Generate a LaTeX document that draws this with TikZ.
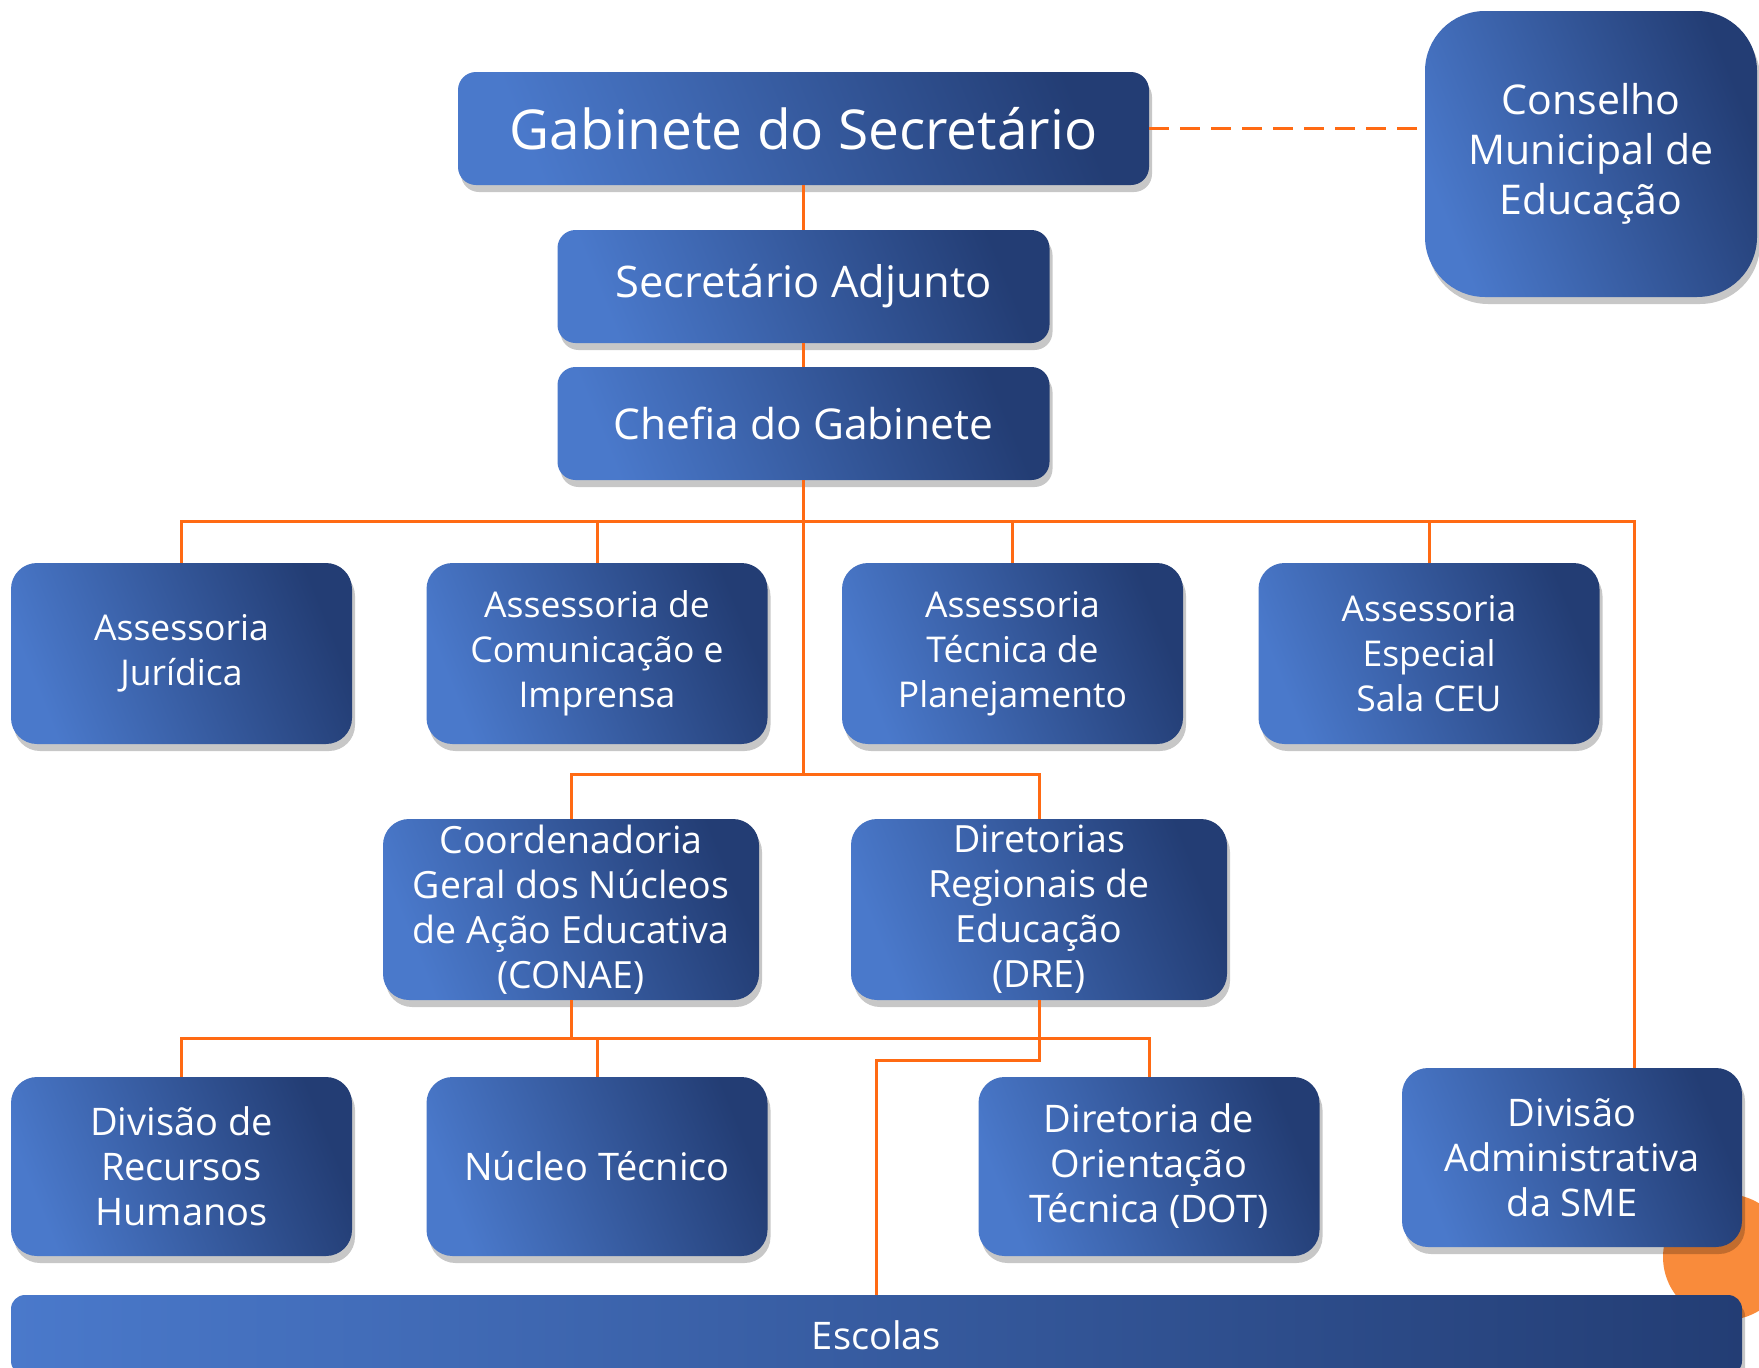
\documentclass[tikz,border=0pt]{standalone}
\usepackage{fontspec}
\setmainfont{Open Sans}
\usetikzlibrary{shadows}
\definecolor{boxL}{HTML}{4A79CB}
\definecolor{boxR}{HTML}{233D74}
\definecolor{lnk}{HTML}{FF6A13}
\definecolor{dotc}{HTML}{F98B3B}
\begin{document}
\begin{tikzpicture}[x=1pt,y=-1pt,
  box/.style={rounded corners=26pt, left color=boxL, right color=boxR, shading angle=112,
    text=white, align=center, inner sep=0pt,
    drop shadow={shadow xshift=3pt,shadow yshift=-7pt,opacity=0.22,fill=black}},
  lnkline/.style={draw=lnk, line width=3pt},
  rowbox/.style={box, minimum width=341pt, minimum height=181pt, font=\fontsize{35.5}{45}\selectfont},
  midbox/.style={box, minimum width=376pt, minimum height=181pt, font=\fontsize{37.5}{45}\selectfont},
  lowbox/.style={box, minimum width=341pt, minimum height=179pt, font=\fontsize{38}{45}\selectfont},
]
\fill[white] (0,0) rectangle (1759,1368);
\clip (0,0) rectangle (1759,1368);
\fill[dotc] (1726,1257) circle (63pt);

% nodes
\node[box, minimum width=691pt, minimum height=113pt, rounded corners=18pt,
  font=\fontsize{55}{60}\selectfont] (gab) at (803.5,128.5) {Gabinete do Secretário};
\node[box, minimum width=332pt, minimum height=286pt, rounded corners=60pt,
  font=\fontsize{41}{50}\selectfont] (cons) at (1591,154) {Conselho\\Municipal de\\Educação};
\node[box, minimum width=492pt, minimum height=113pt, rounded corners=18pt,
  font=\fontsize{43.5}{48}\selectfont] (adj) at (803.5,286.5) {Secretário Adjunto};
\node[box, minimum width=492pt, minimum height=113pt, rounded corners=18pt,
  font=\fontsize{42.5}{48}\selectfont] (chef) at (803.5,423.5) {Chefia do Gabinete};

\node[rowbox] (jur) at (181.5,653.5) {Assessoria\\Jurídica};
\node[rowbox] (com) at (597,653.5) {Assessoria de\\Comunicação e\\Imprensa};
\node[rowbox] (pla) at (1012.5,653.5) {Assessoria\\Técnica de\\Planejamento};
\node[rowbox] (ceu) at (1429,653.5) {Assessoria\\Especial\\Sala CEU};

\node[midbox] (conae) at (571,909.5) {Coordenadoria\\Geral dos Núcleos\\de Ação Educativa\\(CONAE)};
\node[midbox] (dre) at (1039,909.5) {Diretorias\\Regionais de\\Educação\\(DRE)};

\node[lowbox] (rh) at (181.5,1166.5) {Divisão de\\Recursos\\Humanos};
\node[lowbox] (nuc) at (597,1166.5) {Núcleo Técnico};
\node[lowbox] (dot) at (1149,1166.5) {Diretoria de\\Orientação\\Técnica (DOT)};
\node[box, minimum width=340pt, minimum height=179pt, font=\fontsize{38}{45}\selectfont]
  (dadm) at (1572,1157.5) {Divisão\\Administrativa\\da SME};

\node[box, minimum width=1731pt, minimum height=80pt, rounded corners=14pt,
  left color=boxL, middle color=boxL!80!boxR, right color=boxR, shading angle=90,
  font=\fontsize{38}{42}\selectfont] (esc) at (876.5,1335) {Escolas};

% connectors
\draw[lnkline, dash pattern=on 20pt off 11pt] (gab.east) -- (gab.east -| cons.west);
\draw[lnkline] (gab.south) -- (adj.north);
\draw[lnkline] (adj.south) -- (chef.north);

\coordinate (bus1) at (803.5,521);
\coordinate (bus2) at (803.5,774);
\draw[lnkline] (chef.south) -- (bus2);
\draw[lnkline] (jur.north) |- (bus1);
\draw[lnkline] (bus1) -| ([xshift=62pt]dadm.north);
\draw[lnkline] (com.north) -- (com.north |- bus1);
\draw[lnkline] (pla.north) -- (pla.north |- bus1);
\draw[lnkline] (ceu.north) -- (ceu.north |- bus1);

\draw[lnkline] (conae.north) |- (bus2) -| (dre.north);

\coordinate (bus3) at (571,1038);
\draw[lnkline] (conae.south) -- (bus3);
\draw[lnkline] (rh.north) |- (bus3) -| (dot.north);
\draw[lnkline] (nuc.north) -- (nuc.north |- bus3);

\coordinate (dreb) at (1039,1060);
\draw[lnkline] (dre.south) -- (dreb) -| (esc.north);
\end{tikzpicture}
\end{document}
